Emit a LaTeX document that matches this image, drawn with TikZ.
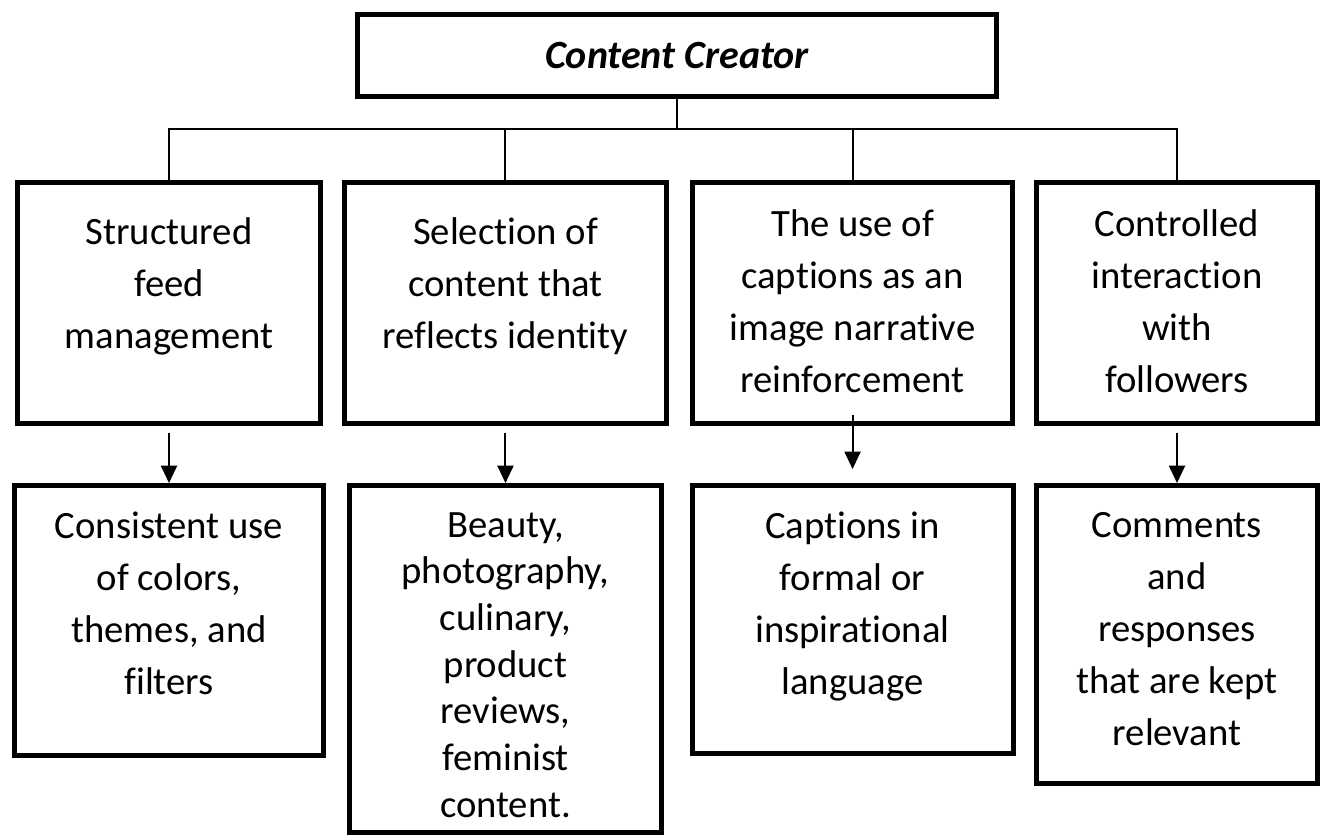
\documentclass[tikz,border=0pt]{standalone}
\usepackage{fontspec}
\setmainfont{Carlito}[Ligatures=NoCommon]
\usetikzlibrary{positioning}
\usetikzlibrary{arrows.meta}

\begin{document}
\begin{tikzpicture}[%
    node distance=42.75pt,
    every node/.style={font=\fontsize{29}{39}\selectfont},
headnode/.style={rectangle, align=center, draw=black, line width=3.75pt, minimum width=479.25pt, minimum height=61.5pt, font=\fontsize{30}{39}\selectfont\bfseries\itshape},
squarednode/.style={rectangle, draw=black, line width=3.75pt, inner sep=0pt},
boxtext/.style={align=center, inner sep=0pt},
link/.style={line width=1.5pt},
linkarrow/.style={line width=1.5pt, -{Triangle[width=12pt,length=13pt]}}
]

\useasboundingbox (0,0) rectangle (992.25pt,-629.25pt);

% top node
\node[headnode]      (creator) at (507.75pt,-41.6pt) {Content Creator};

% first row
\node[squarednode, minimum width=227.25pt, minimum height=180.75pt]      (feed) at (126.75pt,-227.25pt) {};
\node[squarednode, minimum width=241.5pt, minimum height=180.75pt]      (selection) at (379.1pt,-227.25pt) {};
\node[squarednode, minimum width=240pt, minimum height=180.75pt]      (captions) at (639.4pt,-227.25pt) {};
\node[squarednode, minimum width=210.75pt, minimum height=180.75pt]      (interaction) at (882.75pt,-227.25pt) {};

\node[boxtext]      (feedtext) [below=27.75pt of feed.north] {Structured\\feed\\management};
\node[boxtext]      (selectiontext) [below=27.75pt of selection.north] {Selection of\\content that\\reflects identity};
\node[boxtext]      (captionstext) [below=21.75pt of captions.north] {The use of\\captions as an\\image narrative\\reinforcement};
\node[boxtext]      (interactiontext) [below=21.75pt of interaction.north] {Controlled\\interaction\\with\\followers};

% second row
\node[squarednode, minimum width=231.75pt, minimum height=202.5pt]      (colors) [below=of feed] {};
\node[squarednode, minimum width=234pt, minimum height=260.25pt]      (topics) [below=of selection] {};
\node[squarednode, minimum width=240.75pt, minimum height=201pt]      (language) [below=of captions] {};
\node[squarednode, minimum width=210.75pt, minimum height=223.5pt]      (comments) [below=of interaction] {};

\node[boxtext]      (colorstext) [below=21.75pt of colors.north] {Consistent use\\of colors,\\themes, and\\filters};
\node[boxtext, font=\fontsize{29}{35}\selectfont]      (topicstext) [below=21.75pt of topics.north] {Beauty,\\photography,\\culinary,\\product\\reviews,\\feminist\\content.};
\node[boxtext]      (languagetext) [below=21.75pt of language.north] {Captions in\\formal or\\inspirational\\language};
\node[boxtext]      (commentstext) [below=21.75pt of comments.north] {Comments\\and\\responses\\that are kept\\relevant};

% Lines
\coordinate (bus) at (0,-96.75pt);
\draw[link] (creator.south) -- (creator.south |- bus);
\draw[link] (feed.north) |- (creator.south |- bus);
\draw[link] (selection.north) |- (creator.south |- bus);
\draw[link] (captions.north) |- (creator.south |- bus);
\draw[link] (interaction.north) |- (creator.south |- bus);

% arrows
\draw[linkarrow, shorten <=5pt] (feed.south) -- (colors.north);
\draw[linkarrow, shorten <=5pt] (selection.south) -- (topics.north);
\draw[linkarrow, shorten <=-8pt, shorten >=10.5pt] (captions.south) -- (language.north);
\draw[linkarrow, shorten <=5pt] (interaction.south) -- (comments.north);

\end{tikzpicture}
\end{document}
